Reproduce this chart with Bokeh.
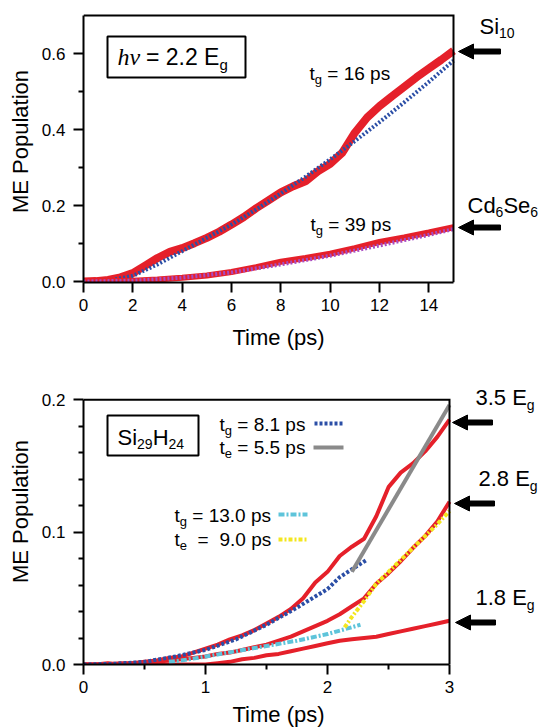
from bokeh.plotting import figure
from bokeh.models import (Range1d, FixedTicker, NumeralTickFormatter, Label,
                          BoxAnnotation, PolyAnnotation)
from bokeh.layouts import column
from bokeh.embed import file_html
from bokeh.resources import INLINE

# ---------------- data: top panel (hv = 2.2 Eg) ----------------
t_si10 = [0, 0.5, 1, 1.5, 2, 2.5, 3, 3.5, 4, 4.5, 5, 5.5, 6, 6.5, 7, 7.5, 8, 8.5, 9,
          9.5, 10, 10.5, 11, 11.5, 12, 12.5, 13, 13.5, 14, 14.5, 15]
me_si10 = [0.000, 0.001, 0.004, 0.011, 0.022, 0.042, 0.062, 0.078, 0.088, 0.101, 0.115,
           0.131, 0.150, 0.170, 0.193, 0.214, 0.235, 0.251, 0.264, 0.290, 0.310, 0.340,
           0.392, 0.432, 0.462, 0.488, 0.513, 0.538, 0.561, 0.584, 0.608]
t_si10_fit = [0, 1, 2, 3, 4, 5, 6, 7, 8, 9, 10, 11, 12, 13, 14, 15]
me_si10_fit = [0.000, 0.002, 0.015, 0.045, 0.080, 0.115, 0.150, 0.190, 0.232, 0.276,
               0.322, 0.370, 0.420, 0.472, 0.526, 0.582]
t_cdse = [0, 1, 2, 3, 4, 5, 6, 7, 8, 9, 10, 11, 12, 13, 14, 15]
me_cdse = [0.000, 0.001, 0.002, 0.005, 0.010, 0.016, 0.025, 0.038, 0.052, 0.062, 0.073,
           0.088, 0.104, 0.116, 0.129, 0.143]
t_cdse_fit = [0, 2, 4, 6, 8, 10, 12, 14, 15]
me_cdse_fit = [0.000, 0.002, 0.010, 0.024, 0.045, 0.068, 0.095, 0.123, 0.138]
top_xticks = [0, 2, 4, 6, 8, 10, 12, 14]
top_yticks = [0.0, 0.2, 0.4, 0.6]
top_yminor = [0.1, 0.3, 0.5]

# ---------------- data: bottom panel (Si29H24) ----------------
t_b = [0.0, 0.1, 0.2, 0.3, 0.4, 0.5, 0.6, 0.7, 0.8, 0.9, 1.0, 1.1, 1.2, 1.3, 1.4, 1.5,
       1.6, 1.7, 1.8, 1.9, 2.0, 2.1, 2.2, 2.3, 2.4, 2.5, 2.6, 2.7, 2.8, 2.9, 3.0]
me_35 = [0.000, 0.000, 0.001, 0.000, 0.001, 0.002, 0.003, 0.005, 0.006, 0.009, 0.012,
         0.015, 0.019, 0.022, 0.026, 0.031, 0.036, 0.042, 0.050, 0.062, 0.070, 0.082,
         0.089, 0.095, 0.112, 0.134, 0.145, 0.152, 0.161, 0.172, 0.185]
me_28 = [0.000, 0.000, 0.000, 0.001, 0.001, 0.001, 0.002, 0.003, 0.004, 0.005, 0.006,
         0.008, 0.009, 0.011, 0.013, 0.015, 0.018, 0.021, 0.025, 0.029, 0.033, 0.038,
         0.044, 0.050, 0.061, 0.069, 0.078, 0.088, 0.097, 0.108, 0.123]
me_18 = [0.000, 0.000, 0.000, 0.000, 0.000, 0.000, 0.000, 0.000, 0.000, 0.000, 0.000,
         0.001, 0.002, 0.004, 0.005, 0.007, 0.008, 0.010, 0.012, 0.014, 0.016, 0.018,
         0.019, 0.020, 0.021, 0.023, 0.025, 0.027, 0.029, 0.031, 0.033]
t_fit_g1 = [0, 0.25, 0.5, 0.75, 1.0, 1.25, 1.5, 1.75, 2.0, 2.1, 2.32]
me_fit_g1 = [0.000, 0.0005, 0.002, 0.006, 0.011, 0.019, 0.030, 0.043, 0.057, 0.066, 0.079]
t_fit_e1 = [2.2, 3.0]
me_fit_e1 = [0.070, 0.196]
t_fit_g2 = [0.7, 0.8, 1.0, 1.25, 1.5, 1.75, 2.0, 2.27]
me_fit_g2 = [0.002, 0.003, 0.006, 0.010, 0.014, 0.018, 0.023, 0.030]
t_fit_e2 = [2.14, 2.2, 2.3, 2.4, 2.5, 2.6, 2.7, 2.8, 2.9, 3.0]
me_fit_e2 = [0.028, 0.036, 0.048, 0.061, 0.070, 0.079, 0.088, 0.097, 0.106, 0.116]
bot_xticks = [0, 1, 2, 3]
bot_xminor = [0.5, 1.5, 2.5]
bot_yticks = [0.0, 0.1, 0.2]
bot_yminor = [0.02, 0.04, 0.06, 0.08, 0.12, 0.14, 0.16, 0.18]

# ---------------- styles ----------------
FONT = "Liberation Sans"
RED = "#e5202a"
BLUE = "#2b4ea6"
PURPLE = "#a84bc2"
GRAY = "#8a8a8a"
CYAN = "#5ec4da"
YELLOW = "#f3e61e"
PAGE_W = 542
BASE_FIX = 0.28   # baseline correction (fraction of font size) for labels

WID = {' ': 278, '=': 584, '.': 278, 'p': 556, 's': 500, 't': 278, 'g': 556, 'e': 556,
       'E': 667, 'S': 667, 'i': 222, 'H': 722, 'C': 722, 'd': 556, '(': 333, ')': 333}
for _d in "0123456789":
    WID[_d] = 556


def tw(s, size):
    return sum(WID.get(c, 556) for c in s) * size / 1000.0


class Geo:
    """Linear page-pixel -> data mapping: page x X0 is data x0, pxx px per unit, etc."""
    def __init__(self, X0, x0, pxx, Y0, y0, pxy):
        self.X0, self.x0, self.pxx, self.Y0, self.y0, self.pxy = X0, x0, pxx, Y0, y0, pxy

    def d(self, X, Y):
        return (self.x0 + (X - self.X0) / self.pxx, self.y0 + (self.Y0 - Y) / self.pxy)


def panel(top, bottom, fT, fB, fL, fR, g):
    xs, ye = g.d(fL, fT)
    xe, ys = g.d(fR, fB)
    p = figure(width=PAGE_W, height=bottom - top, x_range=Range1d(xs, xe),
               y_range=Range1d(ys, ye), output_backend="svg", toolbar_location=None,
               min_border_left=fL, min_border_right=PAGE_W - fR,
               min_border_top=fT - top, min_border_bottom=bottom - fB)
    p.grid.visible = False
    p.outline_line_color = None
    p.background_fill_color = "white"
    p.border_fill_color = "white"
    return p


def style_axes(p):
    for ax in (p.xaxis[0], p.yaxis[0]):
        ax.axis_line_width = 2
        ax.axis_line_color = "black"
        ax.major_tick_line_width = 2
        ax.major_tick_line_color = "black"
        ax.major_tick_out = 10
        ax.major_tick_in = 0
        ax.minor_tick_line_width = 2
        ax.minor_tick_line_color = "black"
        ax.minor_tick_out = 5
        ax.minor_tick_in = 0
        ax.major_label_text_font = FONT
        ax.major_label_text_font_size = "17px"
        ax.major_label_text_color = "black"
    p.yaxis[0].major_label_standoff = 8
    p.xaxis[0].major_label_standoff = 6
    ya = p.yaxis[0]
    ya.axis_label = "ME Population"
    ya.axis_label_text_font = FONT
    ya.axis_label_text_font_size = "22px"
    ya.axis_label_text_font_style = "normal"
    ya.axis_label_text_color = "black"
    ya.axis_label_standoff = 6


def rich(p, g, X, Y, parts):
    x = X
    for part in parts:
        text, size, dy = part[0], part[1], part[2]
        font = part[3] if len(part) > 3 else FONT
        style = part[4] if len(part) > 4 else "normal"
        lead = len(text) - len(text.lstrip(' '))
        x += lead * WID[' '] * size / 1000.0
        text = text.lstrip(' ')
        width = part[5] if len(part) > 5 else tw(text, size)
        xd, yd = g.d(x, Y + dy - BASE_FIX * size)
        p.add_layout(Label(x=xd, y=yd, text=text, text_font=font,
                           text_font_size=f"{size}px", text_font_style=style,
                           text_color="black", text_align="left",
                           text_baseline="alphabetic"))
        x += width


def arrow(p, g, Xtip, Xtail, Y, head=15, hh=7.5, sh=2.5):
    pts = [(Xtip, Y), (Xtip + head, Y - hh), (Xtip + head, Y - sh), (Xtail, Y - sh),
           (Xtail, Y + sh), (Xtip + head, Y + sh), (Xtip + head, Y + hh)]
    xy = [g.d(a, b) for a, b in pts]
    p.add_layout(PolyAnnotation(xs=[a for a, _ in xy], ys=[b for _, b in xy],
                                fill_color="black", fill_alpha=1, line_color="black",
                                line_alpha=1, line_width=1))


def box(p, g, X0, X1, Y0, Y1):
    x0, yt = g.d(X0, Y0)
    x1, yb = g.d(X1, Y1)
    p.add_layout(BoxAnnotation(left=x0, right=x1, bottom=yb, top=yt, fill_color="white",
                               fill_alpha=1, line_color="black", line_alpha=1, line_width=2))


def seg(p, g, X0, X1, Y, **kw):
    a, yy = g.d(X0, Y)
    b, _ = g.d(X1, Y)
    p.line([a, b], [yy, yy], **kw)


def title_strip(top, bottom, fL, X, Y, text, size=22):
    """a plain strip holding an axis title; its data coordinates are page pixels"""
    s = figure(width=PAGE_W, height=bottom - top, x_range=Range1d(fL, PAGE_W),
               y_range=Range1d(bottom, top), x_axis_type=None, y_axis_type=None,
               output_backend="svg", toolbar_location=None, min_border_left=fL,
               min_border_right=0, min_border_top=0, min_border_bottom=0)
    s.outline_line_color = None
    s.background_fill_color = "white"
    s.border_fill_color = "white"
    s.add_layout(Label(x=X, y=Y - BASE_FIX * size, text=text, text_font=FONT,
                       text_font_size=f"{size}px", text_color="black",
                       text_align="center", text_baseline="alphabetic"))
    return s


# ================= TOP PANEL =================
g1 = Geo(83, 0.0, 370 / 15, 281, 0.0, 379.5)
p1 = panel(0, 320, 0, 282, 83, PAGE_W, g1)
BOX1_TOP = g1.d(0, 15)[1]
BOX1_BOT = g1.d(0, 282)[1]
style_axes(p1)
p1.xaxis[0].ticker = FixedTicker(ticks=top_xticks, minor_ticks=[])
p1.yaxis[0].ticker = FixedTicker(ticks=top_yticks, minor_ticks=top_yminor)
p1.yaxis[0].formatter = NumeralTickFormatter(format="0.0")
p1.xaxis[0].bounds = (0, 15)
p1.yaxis[0].bounds = (BOX1_BOT, BOX1_TOP)

p1.line(t_si10, me_si10, line_color=RED, line_width=8)
p1.line(t_si10_fit, me_si10_fit, line_color=BLUE, line_width=4, line_dash="2 2")
p1.line(t_cdse, me_cdse, line_color=RED, line_width=6)
p1.line(t_cdse_fit, me_cdse_fit, line_color=PURPLE, line_width=4, line_dash="2 2")
p1.line([0, 15, 15], [BOX1_TOP, BOX1_TOP, BOX1_BOT], line_color="black", line_width=2,
        line_join="miter")

box(p1, g1, 107, 245, 36, 77)
rich(p1, g1, 117, 63, [("hν", 24, 0, "Liberation Serif", "italic", 22),
                       (" = 2.2 E", 23, 0), ("g", 15, 5)])
rich(p1, g1, 309, 78, [("t", 19, 0), ("g", 13, 5), (" = 16 ps", 19, 0)])
rich(p1, g1, 310, 229, [("t", 19, 0), ("g", 13, 5), (" = 39 ps", 19, 0)])
rich(p1, g1, 479, 32, [("Si", 22, 0), ("10", 14, 4)])
rich(p1, g1, 467, 211, [("Cd", 22, 0), ("6", 14, 4), ("Se", 22, 0), ("6", 14, 4)])
arrow(p1, g1, 458, 500, 51)
arrow(p1, g1, 458, 500, 227)

sB = title_strip(320, 352, 83, 278, 343, "Time (ps)")

# ================= BOTTOM PANEL =================
g2 = Geo(83, 0.0, 122.0, 664, 0.0, 1323.5)
p2 = panel(352, 703, 358, 664, 83, PAGE_W, g2)
BOX2_TOP = 0.2
BOX2_BOT = 0.0
style_axes(p2)
p2.xaxis[0].ticker = FixedTicker(ticks=bot_xticks, minor_ticks=bot_xminor)
p2.yaxis[0].ticker = FixedTicker(ticks=bot_yticks, minor_ticks=bot_yminor)
p2.yaxis[0].formatter = NumeralTickFormatter(format="0.0")
p2.xaxis[0].bounds = (0, 3.0001)
p2.yaxis[0].bounds = (BOX2_BOT, BOX2_TOP + 0.00001)

p2.line(t_b, me_18, line_color=RED, line_width=4)
p2.line(t_b, me_28, line_color=RED, line_width=4)
p2.line(t_b, me_35, line_color=RED, line_width=4)
p2.line(t_fit_g1, me_fit_g1, line_color=BLUE, line_width=4, line_dash="3 2")
p2.line(t_fit_e1, me_fit_e1, line_color=GRAY, line_width=4)
p2.line(t_fit_g2, me_fit_g2, line_color=CYAN, line_width=4, line_dash="6 2 2 2")
p2.line(t_fit_e2, me_fit_e2, line_color=YELLOW, line_width=4, line_dash="4 2 2 2")
p2.line([0, 3, 3], [BOX2_TOP, BOX2_TOP, BOX2_BOT], line_color="black", line_width=2,
        line_join="miter")

# legend samples
seg(p2, g2, 314, 342, 423, line_color=BLUE, line_width=4, line_dash="3 2")
seg(p2, g2, 313, 343, 447, line_color=GRAY, line_width=4)
seg(p2, g2, 278, 307, 514, line_color=CYAN, line_width=4, line_dash="6 2 2 2")
seg(p2, g2, 278, 308, 539, line_color=YELLOW, line_width=4, line_dash="4 2 2 2")

box(p2, g2, 107, 198, 415, 455)
rich(p2, g2, 117, 443, [("Si", 22, 0), ("29", 14, 4), ("H", 22, 0), ("24", 14, 4)])
rich(p2, g2, 219, 429, [("t", 19, 0), ("g", 13, 5), (" = 8.1 ps", 19, 0)])
rich(p2, g2, 219, 452, [("t", 19, 0), ("e", 13, 5), (" = 5.5 ps", 19, 0)])
rich(p2, g2, 174, 520, [("t", 19, 0), ("g", 13, 5), (" = 13.0 ps", 19, 0)])
rich(p2, g2, 174, 544, [("t", 19, 0), ("e", 13, 5)])
rich(p2, g2, 197, 544, [("=", 19, 0)])
rich(p2, g2, 219, 544, [("9.0 ps", 19, 0)])

rich(p2, g2, 475, 403, [("3.5 E", 22, 0), ("g", 14, 5)])
rich(p2, g2, 478, 484, [("2.8 E", 22, 0), ("g", 14, 5)])
rich(p2, g2, 475, 603, [("1.8 E", 22, 0), ("g", 14, 5)])
arrow(p2, g2, 452, 492, 422)
arrow(p2, g2, 454, 494, 503)
arrow(p2, g2, 455, 495, 622)

sD = title_strip(703, 727, 83, 278, 720, "Time (ps)")

layout = column(p1, sB, p2, sD)
open("out.html", "w").write(file_html(layout, INLINE))
